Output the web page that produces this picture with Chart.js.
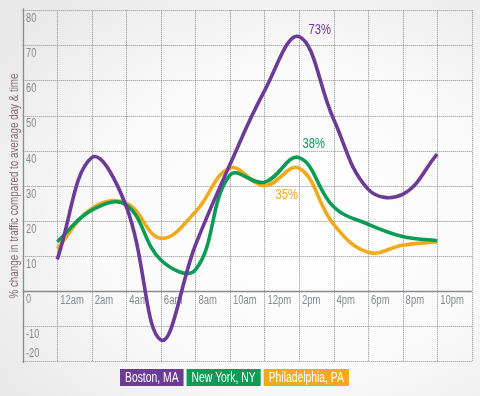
<!DOCTYPE html>
<html>
<head>
<meta charset="utf-8">
<script src="https://cdn.jsdelivr.net/npm/chart.js@4/dist/chart.umd.min.js"></script>
<style>
  html, body { margin: 0; padding: 0; }
  body {
    width: 480px; height: 396px; overflow: hidden;
    background: radial-gradient(ellipse 75% 70% at 62% 55%, #ffffff 0%, #fafafa 55%, #e9e9e9 100%);
  }
  canvas { display: block; }
</style>
</head>
<body>
<canvas id="c" width="480" height="396"></canvas>
<script>
// ---- data ----
const hours = ['12am', '2am', '4am', '6am', '8am', '10am', '12pm', '2pm', '4pm', '6pm', '8pm', '10pm'];
const boston = [9, 38, 24, -14, 13, 36, 57, 72.5, 49, 29, 27.5, 39];
const newYork = [14, 23, 24.5, 8.8, 6, 33, 31, 38, 24, 19, 15.5, 14.3];
const philadelphia = [12, 23.5, 25, 15, 22.5, 35, 30, 35, 19, 11, 13, 14];
const seriesNames = ['Boston, MA', 'New York, NY', 'Philadelphia, PA'];
const seriesColors = ['#6c3a97', '#0a9c55', '#f2a91b'];
const yTicks = [-20, -10, 0, 10, 20, 30, 40, 50, 60, 70, 80];
const peakLabels = ['73%', '38%', '35%'];
const peakValues = [73, 38, 35];
const yTitle = '% change in traffic compared to average day & time';

const FONT = "'Liberation Sans', Arial, sans-serif";

function narrowText(ctx, text, x, y, size, color, align, sx, weight) {
  ctx.save();
  ctx.font = (weight || 'normal') + ' ' + size + 'px ' + FONT;
  ctx.fillStyle = color;
  ctx.textAlign = align;
  ctx.textBaseline = 'middle';
  ctx.translate(x, y);
  ctx.scale(sx, 1);
  ctx.fillText(text, 0, 0);
  ctx.restore();
}
function textWidth(ctx, text, size) {
  ctx.save();
  ctx.font = 'normal ' + size + 'px ' + FONT;
  const w = ctx.measureText(text).width;
  ctx.restore();
  return w;
}

const toPts = arr => arr.map((v, i) => ({ x: i, y: v }));
const allSeries = [boston, newYork, philadelphia];

const datasets = allSeries.map((s, k) => ({
  label: seriesNames[k],
  data: toPts(s),
  borderColor: seriesColors[k],
  backgroundColor: seriesColors[k],
  borderWidth: 3.6,
  pointRadius: 0,
  tension: 0.4,
  fill: false,
  clip: false,
  order: k
}));

const drawPlugin = {
  id: 'customDraw',
  beforeDatasetsDraw(chart) {
    const { ctx, chartArea, scales: { x, y } } = chart;
    ctx.save();
    // dotted grid from scale ticks
    ctx.strokeStyle = '#8f8f8f';
    ctx.lineWidth = 1;
    ctx.setLineDash([1, 1]);
    ctx.beginPath();
    x.ticks.forEach(t => {
      const px = Math.round(x.getPixelForValue(t.value)) + 0.5;
      ctx.moveTo(px, chartArea.top); ctx.lineTo(px, chartArea.bottom);
    });
    y.ticks.forEach(t => {
      const py = Math.round(y.getPixelForValue(t.value)) + 0.5;
      ctx.moveTo(chartArea.left, py); ctx.lineTo(chartArea.right, py);
    });
    ctx.stroke();
    ctx.setLineDash([]);

    // solid axes
    const x0 = Math.round(x.getPixelForValue(-1)) + 0.5;
    const y0 = Math.round(y.getPixelForValue(0)) + 0.5;
    ctx.strokeStyle = '#8a8a8a';
    ctx.lineWidth = 1.3;
    ctx.beginPath();
    ctx.moveTo(x0, chartArea.top - 2); ctx.lineTo(x0, chartArea.bottom + 2);
    ctx.moveTo(chartArea.left, y0); ctx.lineTo(chartArea.right, y0);
    ctx.stroke();
    ctx.restore();

    const tickColor = '#878a91';
    yTicks.forEach(v => {
      const py = y.getPixelForValue(v);
      const off = v === yTicks[0] ? -7 : 8.5;
      narrowText(ctx, String(v), x0 + 2.5, py + off, 12.5, tickColor, 'left', 0.74);
    });
    hours.forEach((h, i) => {
      narrowText(ctx, h, x.getPixelForValue(i) + 3, y0 + 9, 12.5, tickColor, 'left', 0.76);
    });

    // y title (fit to its span)
    const tw = textWidth(ctx, yTitle, 12.5);
    ctx.save();
    ctx.translate(15, 186);
    ctx.rotate(-Math.PI / 2);
    narrowText(ctx, yTitle, 0, 0, 12.5, '#866a6c', 'center', 225 / tw);
    ctx.restore();
  },
  afterDatasetsDraw(chart) {
    const { ctx, scales: { x, y } } = chart;
    const px = x.getPixelForValue(7);
    const offs = [[9.5, -4.5], [3.5, -13.5], [-23.5, 27]];
    peakLabels.forEach((t, k) => {
      narrowText(ctx, t, px + offs[k][0], y.getPixelForValue(peakValues[k]) + offs[k][1], 14, seriesColors[k], 'left', 0.8);
    });
  },
  afterDraw(chart) {
    const { ctx } = chart;
    // legend boxes
    let lx = 120;
    const ly = 369, lh = 17, sx = 0.74, pad = 5;
    seriesNames.forEach((n, k) => {
      const w = textWidth(ctx, n, 14) * sx + pad * 2;
      ctx.save();
      ctx.fillStyle = seriesColors[k];
      ctx.fillRect(lx, ly, w, lh);
      ctx.restore();
      narrowText(ctx, n, lx + pad, ly + lh / 2 + 0.5, 14, '#ffffff', 'left', sx);
      lx += w + 3;
    });
  }
};

new Chart(document.getElementById('c'), {
  type: 'line',
  data: { datasets },
  options: {
    responsive: false,
    animation: false,
    layout: { padding: { left: 22.7, top: 10.3, right: 8.3, bottom: 35 } },
    plugins: { legend: { display: false }, tooltip: { enabled: false } },
    scales: {
      x: {
        type: 'linear', min: -1, max: 12,
        ticks: { display: false, stepSize: 1 },
        grid: { display: false, drawTicks: false },
        border: { display: false }
      },
      y: {
        type: 'linear', min: -20, max: 80,
        ticks: { display: false, stepSize: 10 },
        grid: { display: false, drawTicks: false },
        border: { display: false }
      }
    }
  },
  plugins: [drawPlugin]
});
</script>
</body>
</html>
